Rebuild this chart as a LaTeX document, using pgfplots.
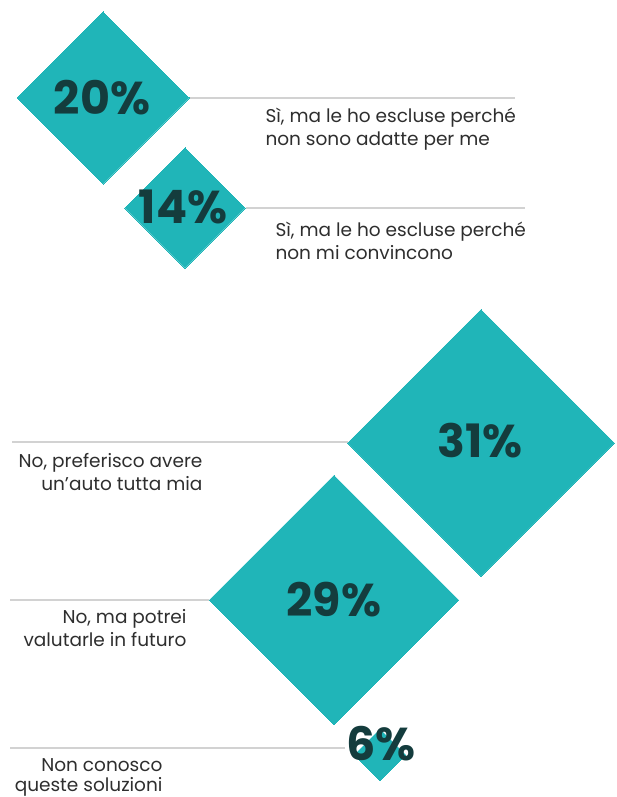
\documentclass[border=0pt]{standalone}
\usepackage{fontspec}
\setmainfont{Poppins}
\usepackage{pgfplots}
\usepackage{pgfplotstable}
\pgfplotsset{compat=1.18}
\definecolor{tealc}{HTML}{20B5B8}
\definecolor{pctc}{HTML}{143C3D}
\definecolor{txtc}{HTML}{2E2E2E}
\definecolor{linec}{HTML}{D2D2D2}
\tikzset{pct/.style={font=\bfseries\fontsize{46}{46}\selectfont,text=pctc,anchor=base},
lab/.style={font=\fontsize{18.5}{18.5}\selectfont,text=txtc}}

% diamond centres (pixel coords, y down) and share in %
\pgfplotstableread{
x y v
103 98 20
185 208 14
481 443 31
334 600 29
380 755 6
}\diamonds
% baseline positions of the percentage labels
\pgfplotstableread{
x y v
102 114 20
183 223 14
480 457 31
334 616 29
381 760 6
}\pcts

\begin{document}
\begin{tikzpicture}
\begin{axis}[name=ax,width=617pt,height=797pt,scale only axis,
xmin=0,xmax=617,ymin=0,ymax=797,y dir=reverse,hide axis,clip=false,
/pgf/number format/assume math mode=true]
% leader lines
\addplot[linec,line width=1.6pt] coordinates {(190,98) (515,98)};
\addplot[linec,line width=1.6pt] coordinates {(246,208) (525,208)};
\addplot[linec,line width=1.6pt] coordinates {(12,442) (348,442)};
\addplot[linec,line width=1.6pt] coordinates {(10,600) (209,600)};
\addplot[linec,line width=1.6pt] coordinates {(10,748) (345,748)};
% diamonds, half diagonal = 4.3 px per percent
\addplot[scatter,only marks,mark=square*,mark options={rotate=45,line width=0pt},
scatter/use mapped color={draw=tealc,fill=tealc},
visualization depends on={4.3*\thisrow{v}/1.41421 \as \ms},
scatter/@pre marker code/.append style={/tikz/mark size=\ms}] table {\diamonds};
\addplot[only marks,mark=none,point meta=explicit,
nodes near coords={\pgfmathprintnumber[assume math mode=true]{\pgfplotspointmeta}\%},
nodes near coords style={pct}] table[meta=v] {\pcts};
\node[lab,anchor=base west] at (axis cs:262,122) {Sì, ma le ho escluse perché};
\node[lab,anchor=base west] at (axis cs:262,145) {non sono adatte per me};
\node[lab,anchor=base west] at (axis cs:272,236) {Sì, ma le ho escluse perché};
\node[lab,anchor=base west] at (axis cs:272,259) {non mi convincono};
\node[lab,anchor=base east] at (axis cs:206,467) {No, preferisco avere};
\node[lab,anchor=base east] at (axis cs:206,490) {un'auto tutta mia};
\node[lab,anchor=base east] at (axis cs:190,623) {No, ma potrei};
\node[lab,anchor=base east] at (axis cs:190,646) {valutarle in futuro};
\node[lab,anchor=base east] at (axis cs:166,771) {Non conosco};
\node[lab,anchor=base east] at (axis cs:166,791) {queste soluzioni};
\end{axis}
\pgfresetboundingbox
\path (ax.south west) rectangle (ax.north east);
\end{tikzpicture}
\end{document}
